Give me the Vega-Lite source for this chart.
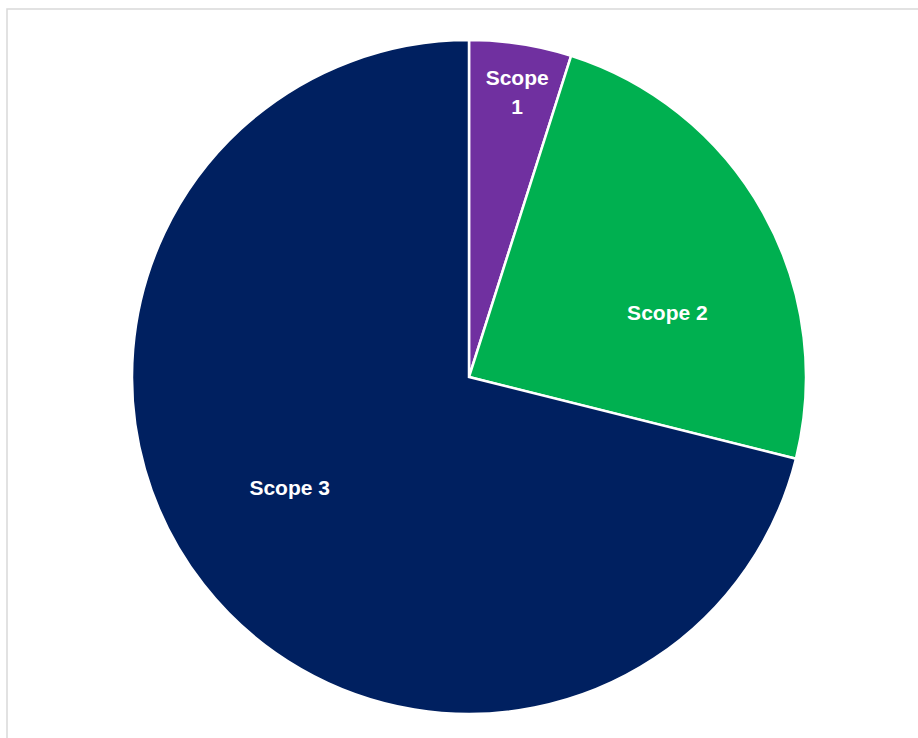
{
  "$schema": "https://vega.github.io/schema/vega-lite/v6.json",
  "width": 924,
  "height": 736,
  "autosize": "none",
  "padding": {"left": 7, "top": 9, "right": 0, "bottom": 0},
  "background": "white",
  "view": {"stroke": "#d9d9d9", "strokeWidth": 1.5},
  "data": {"values": [
    {"scope": "Scope 1", "share": 4.9},
    {"scope": "Scope 2", "share": 24.0},
    {"scope": "Scope 3", "share": 71.1}
  ]},
  "encoding": {
    "theta": {"field": "share", "type": "quantitative", "stack": true},
    "color": {"field": "scope", "type": "nominal", "legend": null,
      "scale": {"domain": ["Scope 1", "Scope 2", "Scope 3"], "range": ["#7030A0", "#00B050", "#002060"]}}
  },
  "layer": [
    {"mark": {"type": "arc", "outerRadius": 337, "stroke": "white", "strokeWidth": 2.5}},
    {"mark": {"type": "text", "radius": 288, "dx": 4, "dy": -13, "font": "Liberation Sans", "fontWeight": "bold", "fontSize": 21, "lineBreak": " ", "lineHeight": 29, "baseline": "middle", "align": "center"},
     "encoding": {"text": {"condition": {"test": "datum.scope === 'Scope 1'", "field": "scope"}, "value": ""}, "color": {"value": "white"}}},
    {"mark": {"type": "text", "radius": 210, "dx": 15, "dy": 39, "font": "Liberation Sans", "fontWeight": "bold", "fontSize": 21, "baseline": "middle", "align": "center"},
     "encoding": {"text": {"condition": {"test": "datum.scope === 'Scope 2'", "field": "scope"}, "value": ""}, "color": {"value": "white"}}},
    {"mark": {"type": "text", "radius": 211, "dx": -13, "dy": -18, "font": "Liberation Sans", "fontWeight": "bold", "fontSize": 21, "baseline": "middle", "align": "center"},
     "encoding": {"text": {"condition": {"test": "datum.scope === 'Scope 3'", "field": "scope"}, "value": ""}, "color": {"value": "white"}}}
  ]
}
